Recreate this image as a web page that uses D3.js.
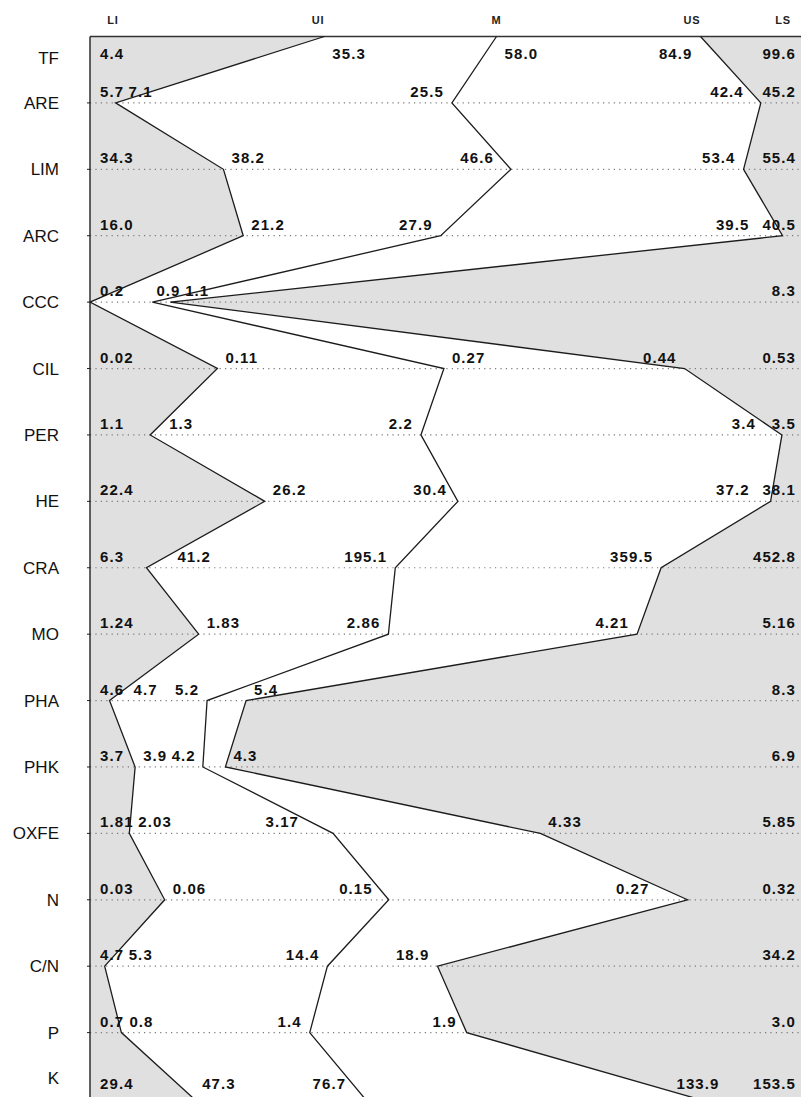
<!DOCTYPE html>
<html>
<head>
<meta charset="utf-8">
<script src="https://cdn.jsdelivr.net/npm/d3@7"></script>
<style>
  body { margin: 0; background: #fff; }
  svg { display: block; font-family: "Liberation Sans", Arial, sans-serif; }
</style>
</head>
<body>
<svg id="chart" width="801" height="1097"></svg>
<script>
// columns: lower limit, lower threshold, mean, upper threshold, upper limit
const columns = ['LI', 'UI', 'M', 'US', 'LS'];
const variables = ['TF', 'ARE', 'LIM', 'ARC', 'CCC', 'CIL', 'PER', 'HE', 'CRA', 'MO', 'PHA', 'PHK', 'OXFE', 'N', 'C/N', 'P', 'K'];

const li = [4.4, 5.7, 34.3, 16.0, 0.2, 0.02, 1.1, 22.4, 6.3, 1.24, 4.6, 3.7, 1.81, 0.03, 4.7, 0.7, 29.4];
const ui = [35.3, 7.1, 38.2, 21.2, 0.2, 0.11, 1.3, 26.2, 41.2, 1.83, 4.7, 3.9, 2.03, 0.06, 5.3, 0.8, 47.3];
const m  = [58.0, 25.5, 46.6, 27.9, 0.9, 0.27, 2.2, 30.4, 195.1, 2.86, 5.2, 4.2, 3.17, 0.15, 14.4, 1.4, 76.7];
const us = [84.9, 42.4, 53.4, 39.5, 1.1, 0.44, 3.4, 37.2, 359.5, 4.21, 5.4, 4.3, 4.33, 0.27, 18.9, 1.9, 133.9];
const ls = [99.6, 45.2, 55.4, 40.5, 8.3, 0.53, 3.5, 38.1, 452.8, 5.16, 8.3, 6.9, 5.85, 0.32, 34.2, 3.0, 153.5];
// decimals printed for each variable
const digits = [1, 1, 1, 1, 1, 2, 1, 1, 1, 2, 1, 1, 2, 2, 1, 1, 1];

const series = [li, ui, m, us, ls];

const svg = d3.select('#chart');
const x0 = 90, x1 = 812;

// every row has its own scale, from its lower to its upper limit
const xs = variables.map((v, i) => d3.scaleLinear().domain([li[i], ls[i]]).range([x0, x1]));
const y = d3.scalePoint().domain(variables).range([36.5, 1099]);

const rows = variables.map((v, i) => i);
const last = rows.length - 1;
const px = arr => i => xs[i](arr[i]);
const py = i => y(variables[i]);

// shaded bands: LI..UI on the left, US..LS on the right
svg.append('path')
  .attr('d', d3.area().y(py).x0(x0).x1(px(ui))(rows))
  .attr('fill', '#e0e0e0');
svg.append('path')
  .attr('d', d3.area().y(py).x0(px(us)).x1(x1)(rows))
  .attr('fill', '#e0e0e0');

// dotted row guides
svg.append('g')
  .selectAll('line')
  .data(variables.slice(1))
  .join('line')
  .attr('x1', x0).attr('x2', x1)
  .attr('y1', d => y(d)).attr('y2', d => y(d))
  .attr('stroke', '#7a7a7a')
  .attr('stroke-width', 1.2)
  .attr('stroke-dasharray', '1.2,4.2');

// frame
svg.append('line')
  .attr('x1', x0).attr('x2', x1)
  .attr('y1', y('TF')).attr('y2', y('TF'))
  .attr('stroke', '#333').attr('stroke-width', 1.4);
svg.append('line')
  .attr('x1', x0).attr('x2', x0)
  .attr('y1', y('TF')).attr('y2', y('K'))
  .attr('stroke', '#222').attr('stroke-width', 1.4);
svg.append('g')
  .selectAll('line')
  .data(variables.slice(1))
  .join('line')
  .attr('x1', x0 - 3).attr('x2', x0)
  .attr('y1', d => y(d)).attr('y2', d => y(d))
  .attr('stroke', '#222');

// UI, M and US profiles
const line = arr => d3.line().x(px(arr)).y(py)(rows);
svg.append('g')
  .selectAll('path')
  .data([ui, m, us])
  .join('path')
  .attr('d', d => line(d))
  .attr('fill', 'none')
  .attr('stroke', '#1c1c1c')
  .attr('stroke-width', 1.3)
  .attr('stroke-linejoin', 'miter');

// column headers, over the first row's vertices
const anchors = ['middle', 'end', 'middle', 'end', 'middle'];
svg.append('g')
  .selectAll('text')
  .data(columns)
  .join('text')
  .attr('x', (d, j) => Math.max(x0 + 23, Math.min(x1 - 29, xs[0](series[j][0]))))
  .attr('y', 24)
  .attr('text-anchor', (d, j) => anchors[j])
  .attr('font-size', 11)
  .attr('font-weight', 'bold')
  .attr('letter-spacing', 0.8)
  .attr('fill', '#222')
  .text(d => d);

// variable names
svg.append('g')
  .selectAll('text')
  .data(variables)
  .join('text')
  .attr('x', 59)
  .attr('y', (d, i) => i === 0 ? 64 : i === last ? 1084 : y(d) + 6)
  .attr('text-anchor', 'end')
  .attr('font-size', 17)
  .attr('fill', '#111')
  .text(d => d);

// value labels, placed beside their vertex without crossing the profiles
const segs = [];
[ui, m, us].forEach(arr => {
  for (let i = 0; i < last; i++) {
    segs.push([px(arr)(i), py(i), px(arr)(i + 1), py(i + 1)]);
  }
});
function hitsLine(a, b, top, bot) {
  return segs.some(([xa, ya, xb, yb]) => {
    const lo = Math.max(Math.min(ya, yb), top);
    const hi = Math.min(Math.max(ya, yb), bot);
    if (lo > hi) return false;
    const xl = xa + (xb - xa) * (lo - ya) / (yb - ya);
    const xh = xa + (xb - xa) * (hi - ya) / (yb - ya);
    return Math.max(xl, xh) >= a && Math.min(xl, xh) <= b;
  });
}

const labels = svg.append('g')
  .attr('font-size', 15)
  .attr('font-weight', 'bold')
  .attr('letter-spacing', 1.1)
  .attr('fill', '#111');

const gap = 8, pad = 4, lsPad = 12, maxSlide = 40;
const prefs = { 1: ['r', 'l'], 2: ['l', 'r'], 3: ['l', 'r'] };
// slide away from the vertex first, then a little closer to it
const slides = d3.range(0, maxSlide + 1).concat(d3.range(-1, -gap - 1, -1));

rows.forEach(i => {
  const base = i === 0 ? py(i) + 22 : i === last ? py(i) - 10 : py(i) - 6;
  const top = base - 10, bot = base - 1;
  const fmt = d3.format('.' + digits[i] + 'f');

  const add = j => {
    const t = labels.append('text').attr('y', base).attr('x', 0).text(fmt(series[j][i]));
    return { t, w: t.node().getBBox().width };
  };

  const a = add(0);
  a.t.attr('x', x0 + 10);
  let minS = x0 + 10 + a.w + pad;
  const b = add(4);
  const maxE = x1 - 16 - b.w - lsPad;
  b.t.attr('x', x1 - 16 - b.w);

  [1, 2, 3].forEach(j => {
    if (j === 1 && ui[i] === li[i]) return;
    const lab = add(j);
    const vx = xs[i](series[j][i]);
    // keeps the columns in order along the row
    const free = s => s >= minS && s + lab.w <= maxE;
    const clear = s => free(s) && !hitsLine(s - 2, s + lab.w + 2, top, bot);
    const tryDir = (dir, ok, g) => {
      for (const k of slides) {
        const s = dir === 'r' ? vx + g + k : vx - g - lab.w - k;
        if (ok(s)) return s;
      }
      return null;
    };
    // the first row hangs below the top edge
    const order = i === 0 ? ['r', 'l'] : prefs[j];
    let s = tryDir(order[0], clear, gap);
    if (s === null) s = tryDir(order[1], clear, gap);
    // crowded rows: only keep labels apart, sitting over the vertex
    if (s === null) s = tryDir('r', free, -lab.w / 2);
    if (s === null) s = Math.max(minS, order[0] === 'r' ? vx + gap : vx - gap - lab.w);
    lab.t.attr('x', s);
    minS = s + lab.w + pad;
  });
});
</script>
</body>
</html>
